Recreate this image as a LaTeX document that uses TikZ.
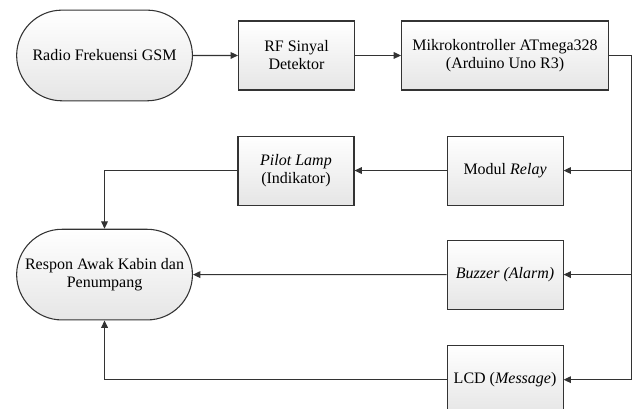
\documentclass[tikz,border=0pt]{standalone}
\usepackage{fontspec}
\setmainfont{Liberation Serif}
\usetikzlibrary{positioning,shapes.misc,arrows.meta}

\begin{document}
\begin{tikzpicture}[node distance=33.75pt,
  blok/.style={draw=black!80, rectangle, line width=0.8pt, top color=white, bottom color=black!10,
    minimum width=87pt, minimum height=51.75pt, align=center, font=\fontsize{12}{13.5}\selectfont},
  ujung/.style={draw=black!80, rounded rectangle, line width=0.8pt, top color=white, bottom color=black!10,
    minimum width=138.5pt, minimum height=68pt, align=center, font=\fontsize{12}{13.5}\selectfont},
  garis/.style={draw=black!80, line width=0.8pt},
  panah/.style={garis, -{Triangle[length=5.5pt,width=5pt]}}]
  \useasboundingbox (0,0) rectangle (481.5pt,-306pt);

  \node (radio) [ujung] at (78.4pt,-41.6pt) {Radio Frekuensi GSM};
  \node (rf) [blok, right=of radio] {RF Sinyal\\Detektor};
  \node (mcu) [blok, right=34.5pt of rf, minimum width=155.25pt] {Mikrokontroller ATmega328\\(Arduino Uno R3)};
  \node (relay) [blok, below=of mcu] {Modul \textit{Relay}};
  \node (pilot) [blok, left=69pt of relay] {\textit{Pilot Lamp}\\(Indikator)};
  \node (buzzer) [blok, below=25.5pt of relay] {\textit{Buzzer (Alarm)}};
  \node (lcd) [blok, below=26.25pt of buzzer] {LCD (\textit{Message})};
  \node (respon) [ujung] at (radio |- buzzer) {Respon Awak Kabin dan\\Penumpang};
  \coordinate (sudut) at ([xshift=16.5pt]mcu.east);

  \draw[panah] (radio) -- (rf);
  \draw[panah] (rf) -- (mcu);
  \draw[panah] (mcu.east) -- (sudut) |- (lcd.east);
  \draw[panah] (sudut |- relay) -- (relay);
  \draw[panah] (sudut |- buzzer) -- (buzzer);
  \draw[panah] (relay) -- (pilot);
  \draw[panah] (pilot.west) -| (respon.north);
  \draw[panah] (buzzer) -- (respon);
  \draw[panah] (lcd.west) -| (respon.south);
\end{tikzpicture}
\end{document}
